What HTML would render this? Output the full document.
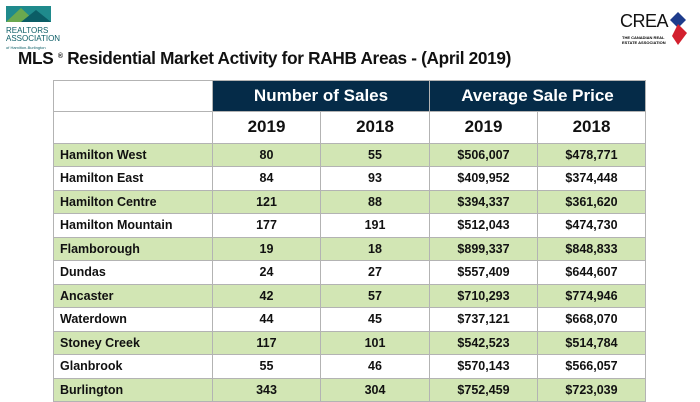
<!DOCTYPE html>
<html><head><meta charset="utf-8"><style>
body{margin:0;width:700px;height:400px;background:#fff;overflow:hidden;position:relative;font-family:"Liberation Sans Narrow","Liberation Sans",sans-serif;}
.title{position:absolute;left:18px;top:48px;font-size:17.2px;font-weight:bold;color:#111;letter-spacing:-0.3px;}
.title sup{font-size:7px;vertical-align:6px;}
table{position:absolute;left:53px;top:80px;border-collapse:collapse;table-layout:fixed;}
td{border:1.5px solid #b3b3b3;padding:0;font-size:12.5px;font-weight:bold;color:#111;text-align:center;}
tr{height:23.5px;}
td.l{text-align:left;padding-left:6px;}
tr.g td{background:#d2e6b4;}
tr.h{height:31px;}
.n{background:#052b48;color:#fff;font-size:17px;font-weight:bold;}
tr.y{height:31.5px;}
.y td{font-size:17px;}
.logo{position:absolute;left:6px;top:6px;}
</style></head><body>
<div class="logo">
<svg width="45" height="16"><rect width="45" height="16" fill="#1f8a8c"/><polygon points="0,16 15,2 30,16" fill="#6aa84f"/><polygon points="15,16 30,4 45,16" fill="#0b5d66"/></svg>
<div style="font-size:8px;color:#0b5d66;line-height:8px;font-family:'Liberation Sans Narrow',sans-serif">REALTORS<br>ASSOCIATION<br><span style="font-size:4px">of Hamilton-Burlington</span></div>
</div>
<div style="position:absolute;left:620px;top:11px;font-size:18px;color:#111;letter-spacing:-0.5px;font-family:'Liberation Sans Narrow',sans-serif">CREA</div>
<svg style="position:absolute;left:670px;top:12px" width="17" height="34"><polygon points="8,0 16,8 8,16 0,8" fill="#1e3c8c"/><polygon points="8,12 17,21 8,33 2,24" fill="#d3202e"/></svg>
<div style="position:absolute;left:622px;top:35px;font-size:4px;line-height:5px;font-weight:bold">THE CANADIAN REAL<br>ESTATE ASSOCIATION</div>
<div class="title">MLS <sup>®</sup> Residential Market Activity for RAHB Areas - (April 2019)</div>
<table>
<colgroup><col style="width:159px"><col style="width:108px"><col style="width:109px"><col style="width:108px"><col style="width:108px"></colgroup>
<tr class="h"><td></td><td colspan="2" class="n">Number of Sales</td><td colspan="2" class="n">Average Sale Price</td></tr>
<tr class="y"><td></td><td>2019</td><td>2018</td><td>2019</td><td>2018</td></tr>
<tr class="g"><td class="l">Hamilton West</td><td>80</td><td>55</td><td>$506,007</td><td>$478,771</td></tr>
<tr><td class="l">Hamilton East</td><td>84</td><td>93</td><td>$409,952</td><td>$374,448</td></tr>
<tr class="g"><td class="l">Hamilton Centre</td><td>121</td><td>88</td><td>$394,337</td><td>$361,620</td></tr>
<tr><td class="l">Hamilton Mountain</td><td>177</td><td>191</td><td>$512,043</td><td>$474,730</td></tr>
<tr class="g"><td class="l">Flamborough</td><td>19</td><td>18</td><td>$899,337</td><td>$848,833</td></tr>
<tr><td class="l">Dundas</td><td>24</td><td>27</td><td>$557,409</td><td>$644,607</td></tr>
<tr class="g"><td class="l">Ancaster</td><td>42</td><td>57</td><td>$710,293</td><td>$774,946</td></tr>
<tr><td class="l">Waterdown</td><td>44</td><td>45</td><td>$737,121</td><td>$668,070</td></tr>
<tr class="g"><td class="l">Stoney Creek</td><td>117</td><td>101</td><td>$542,523</td><td>$514,784</td></tr>
<tr><td class="l">Glanbrook</td><td>55</td><td>46</td><td>$570,143</td><td>$566,057</td></tr>
<tr class="g"><td class="l">Burlington</td><td>343</td><td>304</td><td>$752,459</td><td>$723,039</td></tr>
</table>
</body></html>
